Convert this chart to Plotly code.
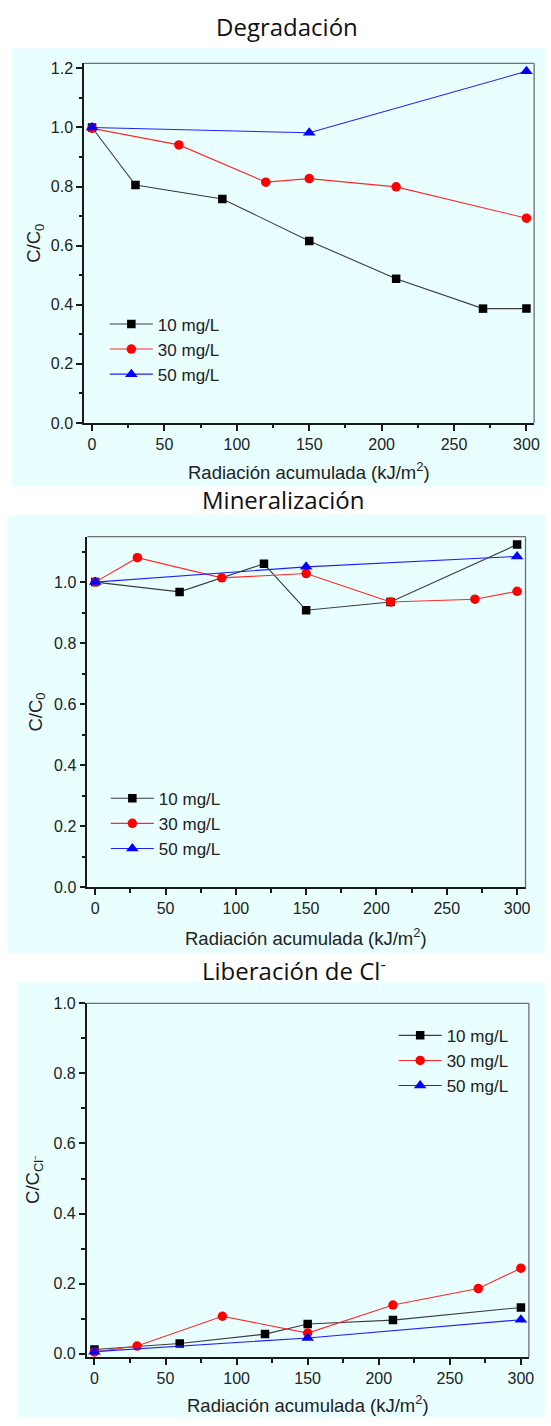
import plotly.graph_objects as go

W, H = 551, 1426

# ---------------- data ----------------
x_deg_10 = [0, 30, 90, 150, 210, 270, 300]
y_deg_10 = [1.0, 0.805, 0.758, 0.616, 0.488, 0.387, 0.387]
x_deg_30 = [0, 60, 120, 150, 210, 300]
y_deg_30 = [0.997, 0.941, 0.815, 0.827, 0.799, 0.693]
x_deg_50 = [0, 150, 300]
y_deg_50 = [1.0, 0.982, 1.19]

x_min_10 = [0, 60, 120, 150, 210, 300]
y_min_10 = [1.0, 0.968, 1.060, 0.908, 0.935, 1.123]
x_min_30 = [0, 30, 90, 150, 210, 270, 300]
y_min_30 = [1.0, 1.080, 1.014, 1.028, 0.935, 0.944, 0.970]
x_min_50 = [0, 150, 300]
y_min_50 = [1.0, 1.05, 1.084]

x_cl_10 = [0, 60, 120, 150, 210, 300]
y_cl_10 = [0.012, 0.029, 0.056, 0.085, 0.096, 0.132]
x_cl_30 = [0, 30, 90, 150, 210, 270, 300]
y_cl_30 = [0.005, 0.022, 0.107, 0.059, 0.139, 0.186, 0.244]
x_cl_50 = [0, 150, 300]
y_cl_50 = [0.006, 0.045, 0.097]

series_names = ["10 mg/L", "30 mg/L", "50 mg/L"]
panel_titles = ["Degradación", "Mineralización", "Liberación de Cl<sup>-</sup>"]
x_title = "Radiación acumulada (kJ/m<sup>2</sup>)"
y_titles = ["C/C<sub>0</sub>", "C/C<sub>0</sub>", "C/C<sub>Cl⁻</sub>"]

# ---------------- styling ----------------
marker_syms = ["square", "circle", "triangle-up"]
marker_cols = ["#000000", "#ff0000", "#0000ff"]
line_cols = ["#3c3c3c", "#ff2a2a", "#2020ff"]
marker_sizes = [8.5, 9.5, 11]

def fx(x):
    return x / W

def fy(y):
    return 1 - y / H

# pixel geometry of plot areas: (left, right, top, bottom)
boxes = [(85, 540, 56, 420), (88.3, 531.3, 535, 890), (87.7, 534.7, 1007.3, 1365.7)]
bg_boxes = [(11.6, 551, 40.7, 484.3), (7.5, 551, 513.3, 956.7), (18.3, 551, 986, 1426)]
xranges = [[-5.5, 305.3], [-5.6, 306], [-5.4, 305.6]]
yranges = [[0, 1.217], [0, 1.149], [-0.0105, 1.0]]
title_pos = [(290, 19), (286, 497), (297, 973)]
xtitle_y = [469, 940, 1413]
ytitle_x = [36, 37, 35]
legend_pos = [(106, 302), (107, 782), (398, 1022)]

data = [
    [(x_deg_10, y_deg_10), (x_deg_30, y_deg_30), (x_deg_50, y_deg_50)],
    [(x_min_10, y_min_10), (x_min_30, y_min_30), (x_min_50, y_min_50)],
    [(x_cl_10, y_cl_10), (x_cl_30, y_cl_30), (x_cl_50, y_cl_50)],
]

fig = go.Figure()
shapes = []
annotations = []
layout = {}

tick_font = dict(family="Liberation Sans, Arial, sans-serif", size=16, color="#222222")
axis_col = "#1a1a1a"

for p in range(3):
    sfx = "" if p == 0 else str(p + 1)
    xa, ya = "x" + sfx, "y" + sfx
    leg = "legend" + sfx
    for s in range(3):
        xs, ys = data[p][s]
        fig.add_trace(go.Scatter(
            x=xs, y=ys, mode="lines+markers", name=series_names[s],
            xaxis=xa, yaxis=ya, legend=leg,
            line=dict(color=line_cols[s], width=1.1),
            marker=dict(symbol=marker_syms[s], color=marker_cols[s], size=marker_sizes[s],
                        line=dict(width=0)),
        ))
    l, r, t, b = boxes[p]
    layout["xaxis" + sfx] = dict(
        domain=[fx(l), fx(r)], anchor=ya, range=xranges[p],
        tick0=0, dtick=50, showline=True, linecolor=axis_col, linewidth=1.6,
        ticks="outside", ticklen=6, tickwidth=1.5, tickcolor=axis_col,
        showgrid=False, zeroline=False, tickfont=tick_font,
        minor=dict(ticks="outside", ticklen=3.5, tickwidth=1.5, tickcolor=axis_col,
                   dtick=25, tick0=0, showgrid=False),
    )
    layout["yaxis" + sfx] = dict(
        domain=[fy(b), fy(t)], anchor=xa, range=yranges[p],
        tick0=0, dtick=0.2, tickformat=".1f", showline=True, linecolor=axis_col,
        linewidth=1.6, ticks="outside", ticklen=6, tickwidth=1.5, tickcolor=axis_col,
        showgrid=False, zeroline=False, tickfont=tick_font,
        minor=dict(ticks="outside", ticklen=3.5, tickwidth=1.5, tickcolor=axis_col,
                   dtick=0.1, tick0=0, showgrid=False),
    )
    # cyan panel background
    bl, br, bt, bb = bg_boxes[p]
    shapes.append(dict(type="rect", xref="paper", yref="paper", layer="below",
                       x0=fx(bl), x1=fx(br), y0=fy(bb), y1=fy(bt),
                       fillcolor="#e8feff", line=dict(width=0)))
    # gray top/right frame
    shapes.append(dict(type="line", xref=xa + " domain", yref=ya + " domain",
                       x0=0, x1=1, y0=1, y1=1, line=dict(color="#6e6e6e", width=1.3)))
    shapes.append(dict(type="line", xref=xa + " domain", yref=ya + " domain",
                       x0=1, x1=1, y0=0, y1=1, line=dict(color="#6e6e6e", width=1.3)))
    # panel title
    tx, ty = title_pos[p]
    annotations.append(dict(text=panel_titles[p], xref="paper", yref="paper",
                            x=fx(tx), y=fy(ty), xanchor="center", yanchor="middle",
                            showarrow=False,
                            font=dict(family="Open Sans, Noto Sans, sans-serif", size=24,
                                      color="#111111")))
    # axis titles
    annotations.append(dict(text=x_title, xref="paper", yref="paper",
                            x=fx((l + r) / 2), y=fy(xtitle_y[p]), xanchor="center",
                            yanchor="middle", showarrow=False,
                            font=dict(family="Liberation Sans, Arial, sans-serif", size=18.5,
                                      color="#222222")))
    annotations.append(dict(text=y_titles[p], xref="paper", yref="paper",
                            x=fx(ytitle_x[p]), y=fy((t + b) / 2), xanchor="center",
                            yanchor="middle", textangle=-90, showarrow=False,
                            font=dict(family="Liberation Sans, Arial, sans-serif", size=18.5,
                                      color="#222222")))
    lx, ly = legend_pos[p]
    layout[leg] = dict(x=fx(lx), y=fy(ly), xanchor="left", yanchor="top",
                       bgcolor="rgba(0,0,0,0)", borderwidth=0, itemwidth=43,
                       tracegroupgap=0,
                       font=dict(family="Liberation Sans, Arial, sans-serif", size=17,
                                 color="#222222"))

fig.update_layout(
    width=W, height=H, margin=dict(l=0, r=0, t=0, b=0),
    paper_bgcolor="white", plot_bgcolor="white",
    shapes=shapes, annotations=annotations, showlegend=True, **layout,
)

fig.write_html("out.html")
